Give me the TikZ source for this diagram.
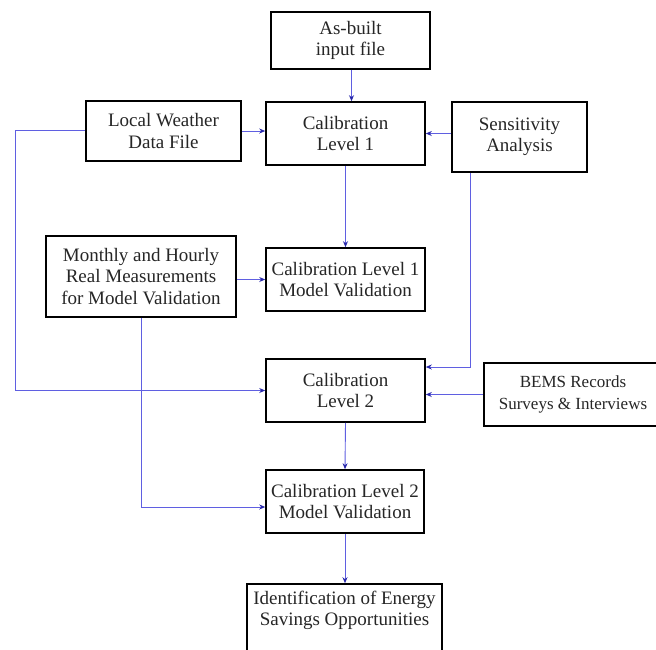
\documentclass[tikz,border=0pt]{standalone}
\usepackage{fontspec}
\setmainfont{Liberation Serif}
\usetikzlibrary{arrows.meta}
\definecolor{linecol}{RGB}{95,95,225}
\definecolor{tipcol}{RGB}{40,40,170}
\begin{document}
\begin{tikzpicture}[x=1pt,y=-1pt,
  box/.style={draw=black,line width=1.6pt,rectangle,inner sep=0pt,align=center,
    font=\fontsize{19}{21.5}\selectfont,text=black!85},
  conn/.style={draw=linecol,line width=0.9pt,-{Stealth[length=6pt,width=5pt,color=tipcol]}},
  plain/.style={draw=linecol,line width=0.9pt}]
\useasboundingbox (0,0) rectangle (656,649);
\fill[white] (0,0) rectangle (656,649);
\clip (0,0) rectangle (656,649);
\node[box,minimum width=159pt,minimum height=57pt] (asbuilt) at (350.5,40.5) {As-built\\input file};
\node[box,minimum width=155pt,minimum height=60pt] (weather) at (163.5,131) {Local Weather\\Data File};
\node[box,minimum width=159pt,minimum height=63pt] (cal1) at (345.5,133.5) {Calibration\\Level 1};
\node[box,minimum width=135pt,minimum height=70pt] (sens) at (519.5,137) {Sensitivity\\Analysis};
\node[box,minimum width=190pt,minimum height=81pt] (monthly) at (141,276.5) {Monthly and Hourly\\Real Measurements\\for Model Validation};
\node[box,minimum width=159pt,minimum height=63pt] (cl1mv) at (345.5,279.5) {Calibration Level 1\\Model Validation};
\node[box,minimum width=159pt,minimum height=63pt] (cal2) at (345.5,390.5) {Calibration\\Level 2};
\node[box,minimum width=178pt,minimum height=63pt,font=\fontsize{17}{21.5}\selectfont] (bems) at (573,394.5) {BEMS Records\\Surveys \& Interviews};
\node[box,minimum width=158pt,minimum height=63pt] (cl2mv) at (345,501.5) {Calibration Level 2\\Model Validation};
\node[box,minimum width=195pt,minimum height=80pt] (ident) at (344.5,624) {Identification of Energy\\Savings Opportunities\\[10pt]};
% connectors
\draw[conn] ([xshift=1pt]asbuilt.south) -- ([xshift=1pt]asbuilt.south |- cal1.north);
\draw[conn] (weather.east) -- (weather.east -| cal1.west);
\draw[conn] (sens.west |- cal1.east) -- (cal1.east);
\draw[conn] ([yshift=1pt]weather.west) -- ++(-70,0) coordinate (wl) |- (cal2.west);
\draw[conn] (cal1.south) -- (cl1mv.north);
\draw[conn] (monthly.east |- cl1mv.west) -- (cl1mv.west);
\draw[conn] ([xshift=-49.5pt]sens.south) |- ([yshift=23.5pt]cal2.east);
\draw[conn] (bems.west) -- (bems.west -| cal2.east);
\draw[conn] (cal2.south) -- (cl2mv.north);
\draw[conn] (monthly.south) |- ([yshift=-5.5pt]cl2mv.west);
\draw[conn] (cl2mv.south) -- (cl2mv.south |- ident.north);
\end{tikzpicture}
\end{document}
